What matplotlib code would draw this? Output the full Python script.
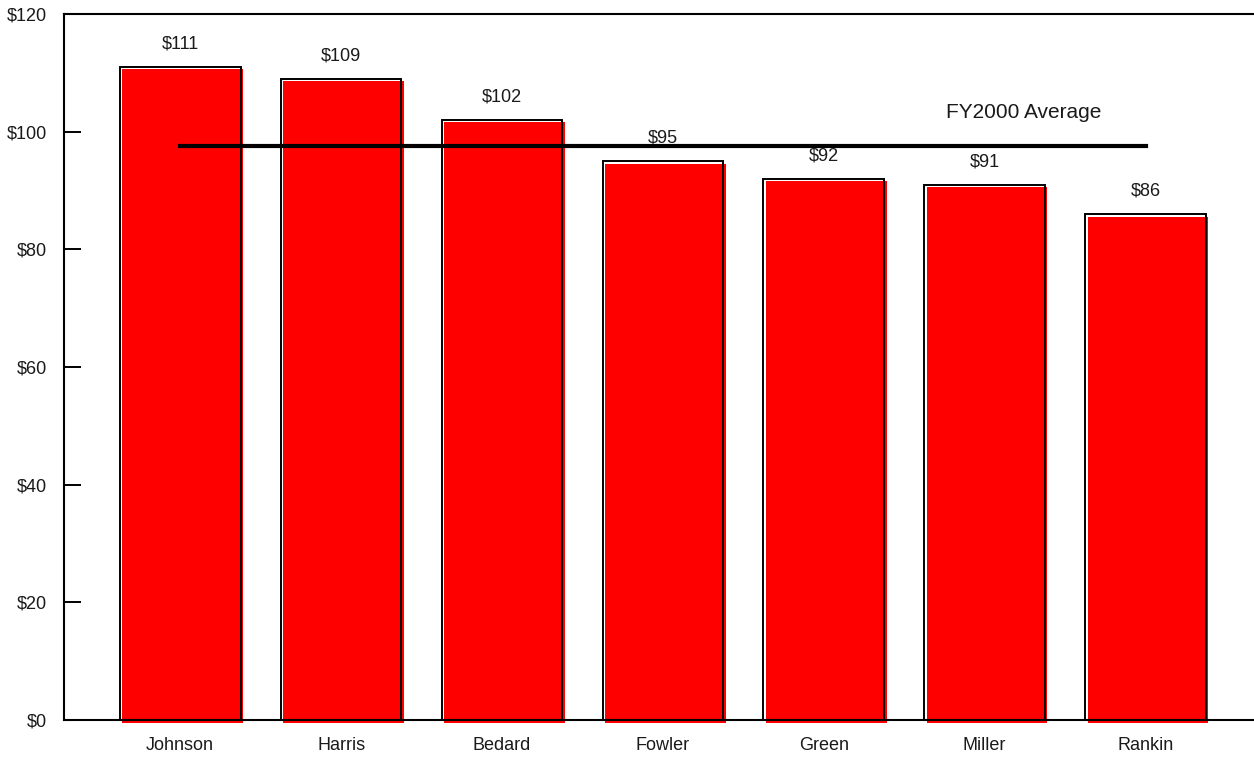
import matplotlib.pyplot as plt
from matplotlib.transforms import offset_copy

# bar data
names = ['Johnson', 'Harris', 'Bedard', 'Fowler', 'Green', 'Miller', 'Rankin']
costs = [111, 109, 102, 95, 92, 91, 86]
fy_average = 97.5
y_ticks = [0, 20, 40, 60, 80, 100, 120]

plt.rcParams['font.family'] = ['Liberation Sans', 'DejaVu Sans']

fig = plt.figure(figsize=(12.54, 7.59), dpi=100)
ax = fig.add_axes([64 / 1254, 39 / 759, 1 - 64 / 1254, 706 / 759])

xs = list(range(len(names)))

# red fill sits a little right/down of the black outline (old "shadow" look)
shift = offset_copy(ax.transData, fig=fig, x=2.5, y=-2.5, units='dots')
ax.bar(xs, costs, width=0.75, color='#ff0000', edgecolor='none',
       transform=shift, clip_on=False, zorder=1)
ax.bar(xs, costs, width=0.75, facecolor='none', edgecolor='black',
       linewidth=1.4, zorder=2)

# average line runs from first bar centre to last
ax.plot([xs[0], xs[-1]], [fy_average, fy_average], color='black', linewidth=3, zorder=3)
ax.text(5.24, 103.2, 'FY2000 Average', fontsize=15, ha='center', va='center', color='#1a1a1a')

for x, v in zip(xs, costs):
    ax.annotate('$' + str(v), (x, v), xytext=(0, 16.5), textcoords='offset points',
                ha='center', va='center', fontsize=13, color='#1a1a1a')

ax.set_xlim(-0.722, 6.674)
ax.set_ylim(0, 120)
ax.set_yticks(y_ticks)
ax.set_yticklabels(['$' + str(t) for t in y_ticks])
ax.set_xticks(xs)
ax.set_xticklabels(names)

ax.tick_params(axis='y', direction='in', length=12, width=1.4, pad=12, labelsize=13,
               labelcolor='#1a1a1a')
ax.tick_params(axis='x', length=0, pad=12, labelsize=13, labelcolor='#1a1a1a')

ax.spines['right'].set_visible(False)
for s in ['left', 'top', 'bottom']:
    ax.spines[s].set_linewidth(1.5)
    ax.spines[s].set_zorder(4)

fig.savefig('out.png', dpi=100)
